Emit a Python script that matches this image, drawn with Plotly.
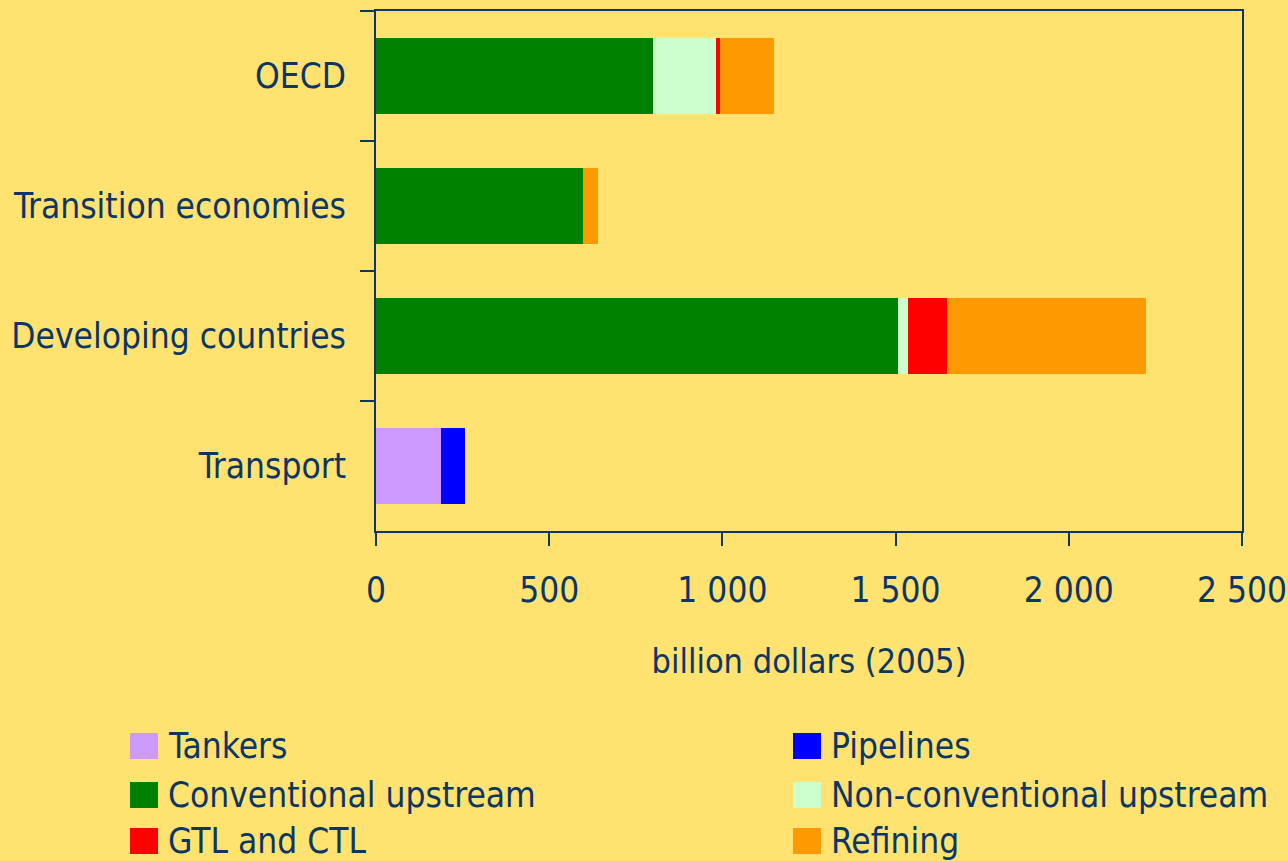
import plotly.graph_objects as go

categories = ["OECD", "Transition economies", "Developing countries", "Transport"]

series_names = ["Tankers", "Pipelines", "Conventional upstream",
                "Non-conventional upstream", "GTL and CTL", "Refining"]
series_colors = ["#CC99FF", "#0000FF", "#008000", "#CCFFCC", "#FF0000", "#FF9900"]

tankers = [0, 0, 0, 188]
pipelines = [0, 0, 0, 69]
conventional_upstream = [800, 597, 1506, 0]
nonconventional_upstream = [181, 0, 29, 0]
gtl_ctl = [12, 0, 112, 0]
refining = [156, 43, 575, 0]

series_values = [tankers, pipelines, conventional_upstream,
                 nonconventional_upstream, gtl_ctl, refining]

x_tickvals = [0, 500, 1000, 1500, 2000, 2500]
x_ticktext = ["0", "500", "1 000", "1 500", "2 000", "2 500"]

BG = "#FFE270"
NAVY = "#0B3666"
FONT = "DejaVu Sans Condensed, Liberation Sans, Arial, sans-serif"
FS = 35

fig = go.Figure()
for name, color, vals in zip(series_names, series_colors, series_values):
    fig.add_trace(go.Bar(
        y=categories, x=vals, name=name, orientation="h",
        marker=dict(color=color, line=dict(width=0)),
        showlegend=False,
    ))

W, H = 1288, 861
L, R, T, B = 376, 46, 11, 330
pw = W - L - R
ph = H - T - B

def px_x(p):
    return (p - L) / pw

def px_y(p):
    return (H - B - p) / ph

# manual legend (two columns, row-wise order)
col_x = [130, 793]
row_y = [746, 795, 841]
shapes = []
annotations = []
for i, (name, color) in enumerate(zip(series_names, series_colors)):
    cx = col_x[i % 2]
    cy = row_y[i // 2]
    shapes.append(dict(type="rect", xref="paper", yref="paper",
                       x0=px_x(cx), x1=px_x(cx + 28),
                       y0=px_y(cy + 13), y1=px_y(cy - 13),
                       fillcolor=color, line=dict(width=0)))
    annotations.append(dict(xref="paper", yref="paper",
                            x=px_x(cx + 36), y=px_y(cy),
                            xanchor="left", yanchor="middle",
                            text=name, showarrow=False,
                            font=dict(family=FONT, size=FS, color=NAVY)))

fig.update_layout(
    width=W, height=H,
    margin=dict(l=L, r=R, t=T, b=B, pad=0, autoexpand=False),
    paper_bgcolor=BG, plot_bgcolor=BG,
    barmode="stack", bargap=0.41,
    font=dict(family=FONT, size=FS, color=NAVY),
    shapes=shapes, annotations=annotations,
    xaxis=dict(
        range=[0, 2500], tickvals=x_tickvals, ticktext=x_ticktext,
        showgrid=False, zeroline=False, automargin=False,
        showline=True, linecolor=NAVY, linewidth=2, mirror=True,
        ticks="outside", ticklen=13, tickwidth=1.5, tickcolor=NAVY,
        ticklabelstandoff=14,
        title=dict(text="billion dollars (2005)", standoff=40,
                   font=dict(size=34)),
        tickfont=dict(size=FS),
    ),
    yaxis=dict(
        categoryorder="array", categoryarray=categories,
        autorange="reversed", automargin=False,
        showgrid=False, zeroline=False,
        showline=True, linecolor=NAVY, linewidth=2, mirror=True,
        ticks="outside", ticklen=14, tickwidth=1.5, tickcolor=NAVY,
        tickson="boundaries", ticklabelstandoff=21,
        tickfont=dict(size=FS),
    ),
)

fig.write_html("out.html", config={"displayModeBar": False},
               post_script="document.body.style.margin='0';")
